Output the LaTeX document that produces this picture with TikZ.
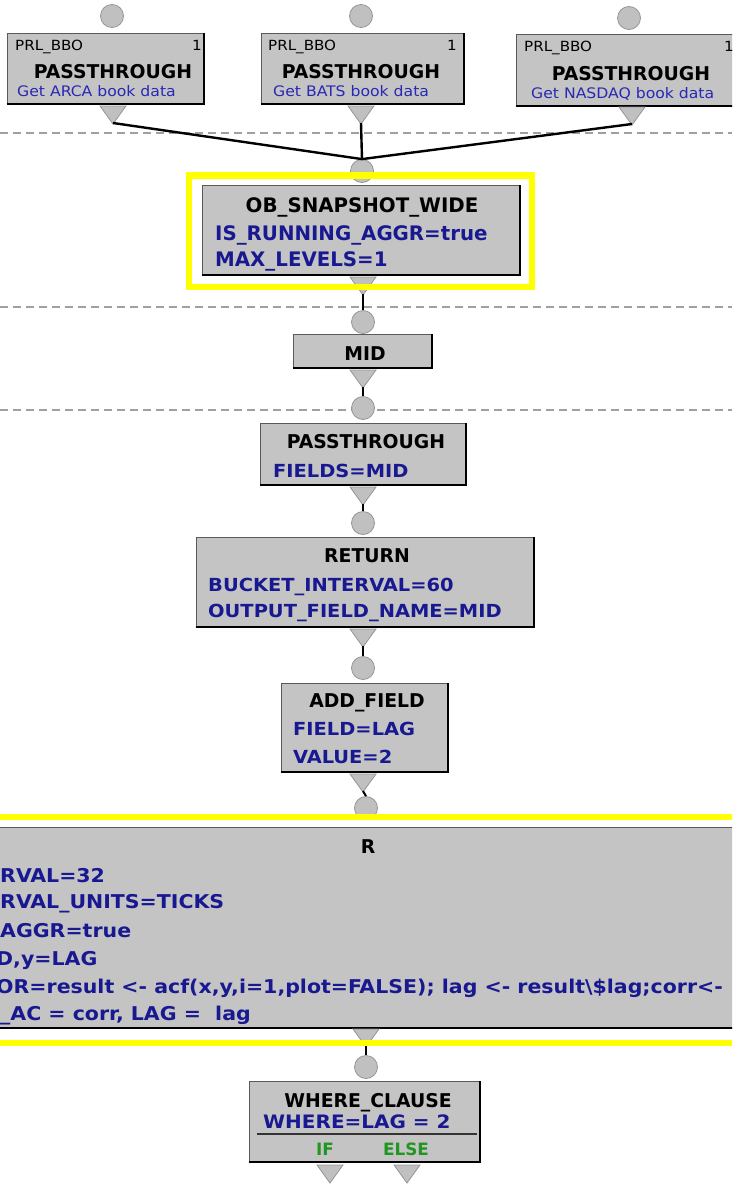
\documentclass[tikz,border=0pt]{standalone}
\usepackage{fontspec}
\newfontfamily\tah{DejaVu Sans Condensed}[FakeStretch=1.2]
\newfontfamily\tahh{DejaVu Sans Condensed}[FakeStretch=1.1]
\definecolor{boxgray}{RGB}{196,196,196}
\definecolor{portgray}{RGB}{192,192,192}
\definecolor{portedge}{RGB}{150,150,150}
\definecolor{navy}{RGB}{24,24,145}
\definecolor{descblue}{RGB}{40,40,180}
\definecolor{grn}{RGB}{34,150,34}
\definecolor{ylw}{RGB}{255,255,0}
\definecolor{dashgray}{RGB}{160,160,160}
\tikzset{
  inport/.style={circle, fill=portgray, draw=portedge, line width=0.8pt, minimum size=23pt, inner sep=0pt},
  outport/.pic={\path[fill=portgray, draw=portedge, line width=0.8pt] (-13,0) -- (13,0) -- (0,18) -- cycle;
                \coordinate (-tip) at (0,17);},
  opbox/.style={rectangle, fill=boxgray, draw=gray!70!black, line width=0.7pt, inner sep=0pt},
  boxshadow/.style={draw=black, line width=2pt},
  conn/.style={draw=black, line width=2.4pt},
  sep/.style={draw=dashgray, line width=1.2pt, dash pattern=on 8pt off 5pt},
  hilite/.style={draw=ylw, line width=6.5pt},
  headtxt/.style={font=\tahh\bfseries\fontsize{19}{19}\selectfont, text=black, inner sep=0pt, anchor=base},
  paramtxt/.style={font=\tah\bfseries\fontsize{18}{18}\selectfont, text=navy, inner sep=0pt, anchor=base west},
  rparam/.style={font=\tah\bfseries\fontsize{19}{19}\selectfont, text=navy, inner sep=0pt, anchor=base west},
  bigparam/.style={font=\tahh\bfseries\fontsize{20}{20}\selectfont, text=navy, inner sep=0pt, anchor=base west},
  smalltxt/.style={font=\tah\fontsize{14}{14}\selectfont, text=black, inner sep=0pt},
  desctxt/.style={font=\tah\fontsize{14.5}{14.5}\selectfont, text=descblue, inner sep=0pt, anchor=base west},
  branchtxt/.style={font=\tahh\bfseries\fontsize{17}{17}\selectfont, text=grn, inner sep=0pt, anchor=base},
}
\begin{document}
\begin{tikzpicture}[x=1pt,y=-1pt]
\useasboundingbox (0,0) rectangle (732,1189);
\clip (0,0) rectangle (732,1189);
\fill[white] (0,0) rectangle (732,1189);

% dashed separators
\coordinate (s1a) at (0,133); \coordinate (s1b) at (732,133);
\coordinate (s2a) at (0,307); \coordinate (s2b) at (732,307);
\coordinate (s3a) at (0,410); \coordinate (s3b) at (732,410);
\draw[sep] (s1a) -- (s1b);
\draw[sep] (s2a) -- (s2b);
\draw[sep] (s3a) -- (s3b);

% ---------- three PASSTHROUGH sources ----------
\node[inport] (in1) at (112,16) {};
\node[inport] (in2) at (361,16) {};
\node[inport] (in3) at (629,18) {};

\node[opbox, minimum width=197, minimum height=71] (pt1) at (105.5,68.5) {};
\node[opbox, minimum width=203, minimum height=71] (pt2) at (362.5,68.5) {};
\node[opbox, minimum width=229, minimum height=72] (pt3) at (630.5,70) {};
\foreach \b in {pt1,pt2,pt3} \draw[boxshadow] (\b.south west) -- (\b.south east) -- (\b.north east);

\node[smalltxt, anchor=base west] (pt1a) at (15,50) {PRL\_BBO};
\node[smalltxt, anchor=base east] (pt1b) at (202,50) {1};
\node[headtxt] (pt1c) at (113,78) {PASSTHROUGH};
\node[desctxt] (pt1d) at (17,96) {Get ARCA book data};

\node[smalltxt, anchor=base west] (pt2a) at (268,50) {PRL\_BBO};
\node[smalltxt, anchor=base east] (pt2b) at (457,50) {1};
\node[headtxt] (pt2c) at (361,78) {PASSTHROUGH};
\node[desctxt] (pt2d) at (273,96) {Get BATS book data};

\node[smalltxt, anchor=base west] (pt3a) at (524,51) {PRL\_BBO};
\node[smalltxt, anchor=base east] (pt3b) at (734,51) {1};
\node[headtxt] (pt3c) at (631,80) {PASSTHROUGH};
\node[desctxt] (pt3d) at (531,98) {Get NASDAQ book data};

\pic (o1) at (113,106) {outport};
\pic (o2) at (361,106) {outport};
\pic (o3) at (632,107) {outport};

% ---------- OB_SNAPSHOT_WIDE ----------
\node[inport] (obin) at (362,171) {};
\draw[conn] (o1-tip) -- (obin.north);
\draw[conn] (o2-tip) -- (obin.north);
\draw[conn] (o3-tip) -- (obin.north);
\node[opbox, minimum width=318, minimum height=90] (ob) at (361,230) {};
\draw[boxshadow] (ob.south west) -- (ob.south east) -- (ob.north east);
\node[headtxt, font=\tahh\bfseries\fontsize{20}{20}\selectfont] (obt) at (362,212) {OB\_SNAPSHOT\_WIDE};
\node[bigparam] (obp1) at (215,240) {IS\_RUNNING\_AGGR=true};
\node[bigparam] (obp2) at (215,266) {MAX\_LEVELS=1};
\pic (obo) at (363,277) {outport};
\draw[hilite] (189,175.5) rectangle (532,287);

% ---------- MID ----------
\node[inport] (midin) at (363,322) {};
\draw[conn, line width=2pt] (obo-tip) -- (midin.north);
\node[opbox, minimum width=139, minimum height=34] (mid) at (362.5,351) {};
\draw[boxshadow] (mid.south west) -- (mid.south east) -- (mid.north east);
\node[headtxt] (midt) at (365,360) {MID};
\pic (mido) at (363,370) {outport};

% ---------- PASSTHROUGH FIELDS=MID ----------
\node[inport] (ptin) at (363,408) {};
\draw[conn, line width=2pt] (mido-tip) -- (ptin.north);
\node[opbox, minimum width=206, minimum height=62] (pt) at (363,454) {};
\draw[boxshadow] (pt.south west) -- (pt.south east) -- (pt.north east);
\node[headtxt] (ptt) at (366,448) {PASSTHROUGH};
\node[paramtxt] (ptp1) at (273,477) {FIELDS=MID};
\pic (pto) at (363,487) {outport};

% ---------- RETURN ----------
\node[inport] (retin) at (363,523) {};
\draw[conn, line width=2pt] (pto-tip) -- (retin.north);
\node[opbox, minimum width=338, minimum height=90] (ret) at (365,582) {};
\draw[boxshadow] (ret.south west) -- (ret.south east) -- (ret.north east);
\node[headtxt] (rett) at (367,562) {RETURN};
\node[paramtxt] (retp1) at (208,591) {BUCKET\_INTERVAL=60};
\node[paramtxt] (retp2) at (208,617) {OUTPUT\_FIELD\_NAME=MID};
\pic (reto) at (363,629) {outport};

% ---------- ADD_FIELD ----------
\node[inport] (addin) at (363,668) {};
\draw[conn, line width=2pt] (reto-tip) -- (addin.north);
\node[opbox, minimum width=167, minimum height=89] (add) at (364.5,727.5) {};
\draw[boxshadow] (add.south west) -- (add.south east) -- (add.north east);
\node[headtxt] (addt) at (367,707) {ADD\_FIELD};
\node[paramtxt] (addp1) at (293,735) {FIELD=LAG};
\node[paramtxt] (addp2) at (293,763) {VALUE=2};
\pic (addo) at (363,774) {outport};

% ---------- R ----------
\node[inport] (rin) at (366,808) {};
\draw[conn, line width=2pt] (addo-tip) -- (rin.north);
\node[opbox, minimum width=752, minimum height=201] (rbox) at (366,927.5) {};
\draw[boxshadow] (rbox.south west) -- (rbox.south east);
\pic (ro) at (366,1029) {outport};
\node[headtxt] (rt) at (368,853) {R};
\node[rparam] (rp1) at (0,882) {RVAL=32};
\node[rparam] (rp2) at (0,908) {RVAL\_UNITS=TICKS};
\node[rparam] (rp3) at (0,937) {AGGR=true};
\node[rparam] (rp4) at (-4,965) {D,y=LAG};
\node[rparam] (rp5) at (-4,993) {OR=result <- acf(x,y,i=1,plot=FALSE); lag <- result\textbackslash\$lag;corr<-};
\node[rparam] (rp6) at (0,1020) {\_AC = corr, LAG =\ \ lag};
\draw[hilite] (-10,817) rectangle (742,1043);

% ---------- WHERE_CLAUSE ----------
\node[inport] (whin) at (366,1067) {};
\draw[conn, line width=2pt] (ro-tip) -- (whin.north);
\node[opbox, minimum width=231, minimum height=81] (wh) at (364.5,1121.5) {};
\draw[boxshadow] (wh.south west) -- (wh.south east) -- (wh.north east);
\node[headtxt] (wht) at (368,1107) {WHERE\_CLAUSE};
\node[paramtxt, font=\tah\bfseries\fontsize{18.5}{18.5}\selectfont] (whp1) at (263,1128) {WHERE=LAG = 2};
\coordinate (wsa) at (257,1134); \coordinate (wsb) at (477,1134);
\draw[line width=1.5pt, draw=black!80] (wsa) -- (wsb);
\node[branchtxt] (wif) at (325,1155) {IF};
\node[branchtxt] (welse) at (406,1155) {ELSE};
\pic (wifo) at (330,1165) {outport};
\pic (welseo) at (407,1165) {outport};
\end{tikzpicture}
\end{document}
